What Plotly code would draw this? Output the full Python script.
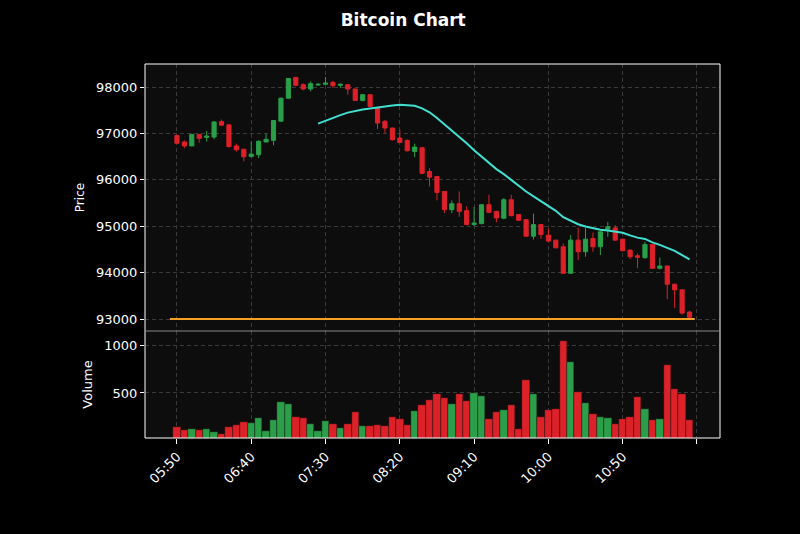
import plotly.graph_objects as go
import pandas as pd

# ---- data (5-minute candles, 05:50 .. 11:35) ----
opens = [96958, 96816, 96731, 96979, 96915, 96922, 97255, 97185, 96731, 96660,
         96504, 96540, 96816, 96851, 97263, 97759, 98208, 98050, 97957, 98043,
         98058, 98100, 98036, 98050, 97957, 97712, 97835, 97547, 97260, 97116,
         96900, 96850, 96612, 96692, 96179, 96072, 95750, 95357, 95485, 95335,
         95035, 95056, 95464, 95321, 95171, 95571, 95250, 95142, 94785, 95035,
         94807, 94700, 94557, 93986, 94700, 94450, 94736, 94557, 94936, 94964,
         94721, 94486, 94364, 94321, 94607, 94093, 94143, 93750, 93629, 93150]
highs = [96965, 96851, 96990, 96985, 97050, 97262, 97298, 97190, 96780, 96665,
         96823, 96851, 96993, 97285, 97770, 98195, 98215, 98080, 98122, 98086,
         98216, 98130, 98080, 98060, 97965, 97850, 97845, 97560, 97290, 97125,
         97080, 96870, 96778, 96700, 96250, 96080, 95760, 95557, 95750, 95428,
         95414, 95470, 95678, 95330, 95607, 95678, 95260, 95150, 95271, 95050,
         94950, 94710, 94629, 94807, 94964, 94964, 94864, 94890, 95093, 95021,
         94730, 94495, 94414, 94664, 94615, 94322, 94150, 93760, 93640, 93179]
lows = [96780, 96681, 96725, 96802, 96823, 96873, 97170, 96695, 96610, 96398,
        96483, 96469, 96810, 96745, 97255, 97750, 98020, 97930, 97906, 98030,
        98050, 97980, 97980, 97835, 97700, 97690, 97575, 97094, 97008, 96850,
        96790, 96610, 96490, 96120, 95857, 95557, 95285, 95285, 95200, 95020,
        95000, 95040, 95290, 95085, 95160, 95210, 95110, 94770, 94713, 94728,
        94660, 94520, 93980, 93980, 94272, 94343, 94450, 94379, 94772, 94690,
        94460, 94293, 94093, 94300, 94080, 94070, 93429, 93236, 93093, 93022]
closes = [96788, 96731, 96979, 96894, 96943, 97248, 97178, 96717, 96646, 96497,
          96554, 96830, 96873, 97277, 97759, 98184, 98036, 97957, 98072, 98058,
          98086, 98028, 98058, 97957, 97712, 97835, 97583, 97223, 97116, 96864,
          96806, 96627, 96706, 96140, 96057, 95728, 95357, 95485, 95321, 95035,
          95070, 95464, 95300, 95178, 95571, 95228, 95128, 94785, 95035, 94820,
          94679, 94536, 93986, 94700, 94450, 94721, 94557, 94879, 94986, 94700,
          94472, 94343, 94329, 94607, 94093, 94143, 93750, 93629, 93129, 93036]
volumes = [146, 118, 125, 111, 125, 90, 73, 143, 163, 195,
           184, 236, 104, 219, 406, 382, 247, 236, 174, 104,
           209, 174, 136, 181, 302, 153, 153, 163, 156, 247,
           229, 167, 313, 372, 424, 490, 445, 385, 490, 417,
           500, 469, 226, 302, 323, 375, 125, 635, 490, 247,
           323, 333, 1041, 823, 510, 396, 281, 250, 240, 177,
           229, 247, 455, 333, 219, 229, 795, 542, 493, 222]

tick_positions = [0, 10, 20, 30, 40, 50, 60, 70]
tick_labels = ["05:50", "06:40", "07:30", "08:20", "09:10", "10:00", "10:50", ""]
ma_window = 20
hline_level = 93000
title_text = "Bitcoin Chart"

# ---- styling ----
UP = "#2a9e48"
DOWN = "#dd2128"
GRID = "#3a3a3a"
BG = "#0d0d0d"

idx = list(range(len(closes)))
ma = pd.Series(closes).rolling(ma_window).mean()
vol_colors = [UP if c >= o else DOWN for o, c in zip(opens, closes)]

fig = go.Figure()
fig.add_trace(go.Candlestick(
    x=idx, open=opens, high=highs, low=lows, close=closes,
    increasing=dict(line=dict(color=UP, width=1), fillcolor=UP),
    decreasing=dict(line=dict(color=DOWN, width=1), fillcolor=DOWN),
    whiskerwidth=0, showlegend=False, xaxis="x", yaxis="y",
))
fig.add_trace(go.Scatter(
    x=idx, y=ma, mode="lines", line=dict(color="#40e0d0", width=2),
    showlegend=False, xaxis="x", yaxis="y",
))
fig.add_trace(go.Scatter(
    x=[idx[0] - 0.95, idx[-1] + 0.7], y=[hline_level, hline_level], mode="lines",
    line=dict(color="#f5a023", width=2), showlegend=False, xaxis="x", yaxis="y",
))
fig.add_trace(go.Bar(
    x=idx, y=volumes, marker=dict(color=vol_colors, line=dict(color="#111", width=0.4)),
    width=1.0, showlegend=False, xaxis="x2", yaxis="y2",
))

xr = [-4.3, 73.1]
split = 107 / 374
axis_common = dict(showgrid=True, gridcolor=GRID, griddash="4px,3px", gridwidth=1,
                   zeroline=False, showline=False)

fig.update_layout(
    width=800, height=534,
    paper_bgcolor="#000000", plot_bgcolor=BG,
    margin=dict(l=145, r=80, t=64, b=96),
    font=dict(family="DejaVu Sans", color="white", size=12),
    title=dict(text="<b>" + title_text + "</b>", x=0.504, xanchor="center",
               y=1 - 20 / 534, yanchor="middle", font=dict(size=17, color="white")),
    bargap=0,
    boxgap=0.2,
    xaxis=dict(domain=[0, 1], anchor="y", range=xr, tickvals=tick_positions,
               showticklabels=False, ticks="", rangeslider=dict(visible=False),
               **axis_common),
    yaxis=dict(domain=[split, 1], anchor="x", range=[92742, 98496],
               tickvals=[93000, 94000, 95000, 96000, 97000, 98000], tickformat="d",
               ticks="outside", ticklen=4, tickcolor="white", tickfont=dict(size=13),
               title=dict(text="Price", font=dict(size=12), standoff=8),
               **axis_common),
    xaxis2=dict(domain=[0, 1], anchor="y2", range=xr, tickvals=tick_positions,
                ticktext=tick_labels, tickangle=-45, ticks="outside", ticklen=5,
                tickcolor="white", tickfont=dict(size=13), **axis_common),
    yaxis2=dict(domain=[0, split], anchor="x2", range=[31, 1146],
                tickvals=[500, 1000], tickformat="d", ticks="outside", ticklen=4,
                tickcolor="white", tickfont=dict(size=13),
                title=dict(text="Volume", font=dict(size=13), standoff=8),
                **axis_common),
)

# frame
fig.add_shape(type="rect", xref="paper", yref="paper", x0=0, x1=1, y0=0, y1=1,
              line=dict(color="white", width=1), layer="above")
fig.add_shape(type="line", xref="paper", yref="paper", x0=0, x1=1, y0=split, y1=split,
              line=dict(color="#8a8a8a", width=1), layer="above")

fig.write_html(
    "out.html",
    config={"displayModeBar": False},
    post_script="document.body.style.margin='0';document.body.style.background='#000';",
)
